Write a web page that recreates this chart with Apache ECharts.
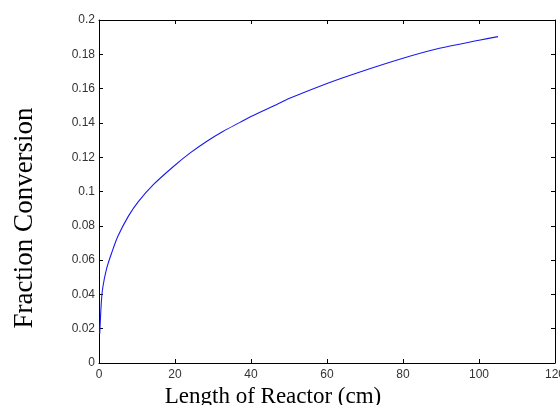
<!DOCTYPE html>
<html>
<head>
<meta charset="utf-8">
<script src="https://cdn.jsdelivr.net/npm/echarts@6/dist/echarts.min.js"></script>
<style>html,body{margin:0;padding:0;background:#fff}#c{width:560px;height:405px}</style>
</head>
<body>
<div id="c"></div>
<script>
const lengthCm = [0.2, 0.6, 1, 2, 3.3, 5, 7.7, 10.3, 14.3, 19.6, 24, 28.3, 32.6, 37.1, 40, 46.8, 50, 60, 67.7, 80, 89.6, 100, 105];
const conversion = [0.017, 0.035, 0.044, 0.055, 0.064, 0.074, 0.0855, 0.094, 0.104, 0.1146, 0.1225, 0.1292, 0.135, 0.1403, 0.1438, 0.1508, 0.1542, 0.163, 0.169, 0.1777, 0.1835, 0.1882, 0.1903];
const xTitle = 'Length of Reactor (cm)';
const yTitle = 'Fraction Conversion';

const chart = echarts.init(document.getElementById('c'), null, {renderer: 'canvas'});
const axisLine = {show: true, onZero: false, lineStyle: {color: '#000', width: 1}};
const tick = {show: true, inside: true, length: 4, lineStyle: {color: '#000'}};
const lbl = {color: '#333', fontSize: 12, fontFamily: 'Liberation Sans, Arial, sans-serif'};
chart.setOption({
  animation: false,
  backgroundColor: '#fff',
  grid: {left: 99, right: 5, top: 20, bottom: 42, containLabel: false, outerBoundsMode: 'none'},
  xAxis: [{
    type: 'value', min: 0, max: 120, interval: 20, position: 'bottom',
    axisLine, axisTick: tick, splitLine: {show: false},
    axisLabel: Object.assign({margin: 6, showMaxLabel: true, hideOverlap: false}, lbl),
    name: xTitle, nameLocation: 'middle', nameGap: 20,
    nameTextStyle: {fontFamily: 'Liberation Serif, Times New Roman, serif', fontSize: 23, color: '#000', padding: [0, 108, 0, 0]}
  }, {
    type: 'value', min: 0, max: 120, interval: 20, position: 'top',
    axisLine, axisTick: tick, splitLine: {show: false}, axisLabel: {show: false}
  }],
  yAxis: [{
    type: 'value', min: 0, max: 0.2, interval: 0.02, position: 'left',
    axisLine, axisTick: tick, splitLine: {show: false},
    axisLabel: Object.assign({margin: 4}, lbl),
    name: yTitle, nameLocation: 'middle', nameGap: 61, nameRotate: 90,
    nameTextStyle: {fontFamily: 'Liberation Serif, Times New Roman, serif', fontSize: 27, color: '#000', padding: [0, 53, 0, 0]}
  }, {
    type: 'value', min: 0, max: 0.2, interval: 0.02, position: 'right',
    axisLine, axisTick: tick, splitLine: {show: false}, axisLabel: {show: false}
  }],
  series: [{
    type: 'line', xAxisIndex: 0, yAxisIndex: 0,
    data: lengthCm.map((x, i) => [x, conversion[i]]),
    showSymbol: false, smooth: 0.3,
    lineStyle: {color: '#1a1aee', width: 1.1}
  }]
});
</script>
</body>
</html>
